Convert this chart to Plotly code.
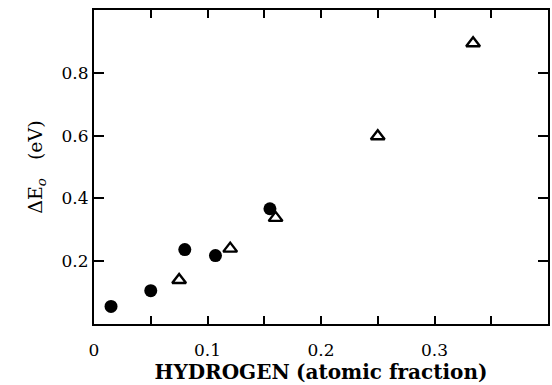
import plotly.graph_objects as go

# Data
circle_x = [0.015, 0.050, 0.080, 0.107, 0.155]
circle_y = [0.056, 0.106, 0.237, 0.218, 0.367]
tri_x = [0.075, 0.120, 0.160, 0.250, 0.334]
tri_y = [0.140, 0.240, 0.338, 0.598, 0.894]

x_tickvals = [0, 0.1, 0.2, 0.3]
x_ticktext = ["0", "0.1", "0.2", "0.3"]
x_minor = [0.05, 0.15, 0.25, 0.35]
y_tickvals = [0.2, 0.4, 0.6, 0.8]
y_ticktext = ["0.2", "0.4", "0.6", "0.8"]

FONT = "DejaVu Serif"

fig = go.Figure()
fig.add_trace(go.Scatter(
    x=circle_x, y=circle_y, mode="markers",
    marker=dict(symbol="circle", size=13, color="black"),
    showlegend=False))
fig.add_trace(go.Scatter(
    x=tri_x, y=tri_y, mode="markers",
    marker=dict(symbol="triangle-up-open", size=12, color="black",
                line=dict(width=2.4, color="black")),
    showlegend=False))

fig.update_layout(
    width=552, height=385,
    margin=dict(l=94, r=2, t=10, b=61),
    paper_bgcolor="white", plot_bgcolor="white",
    font=dict(family=FONT, size=17, color="black"),
    xaxis=dict(
        range=[0, 0.4], showgrid=False, zeroline=False,
        showline=True, linewidth=2, linecolor="black", mirror="ticks",
        ticks="inside", ticklen=8, tickwidth=2, tickcolor="black",
        tickvals=x_tickvals, ticktext=x_ticktext,
        ticklabelstandoff=10,
        minor=dict(tickvals=x_minor, ticks="inside", ticklen=8,
                   tickwidth=2, tickcolor="black", showgrid=False),
        tickfont=dict(family=FONT, size=17, color="black"),
        title=dict(text="<b>HYDROGEN</b> <b>(atomic fraction)</b>",
                   font=dict(family=FONT, size=20, color="black"), standoff=6),
    ),
    yaxis=dict(
        range=[0, 1.0], showgrid=False, zeroline=False,
        showline=True, linewidth=2, linecolor="black", mirror="ticks",
        ticks="inside", ticklen=10, tickwidth=2, tickcolor="black",
        tickvals=y_tickvals, ticktext=y_ticktext,
        tickfont=dict(family=FONT, size=17, color="black"),
        title=dict(text="ΔE<sub><i>o</i></sub>   (eV)",
                   font=dict(family=FONT, size=19, color="black"), standoff=14),
    ),
)

fig.write_html("out.html")
